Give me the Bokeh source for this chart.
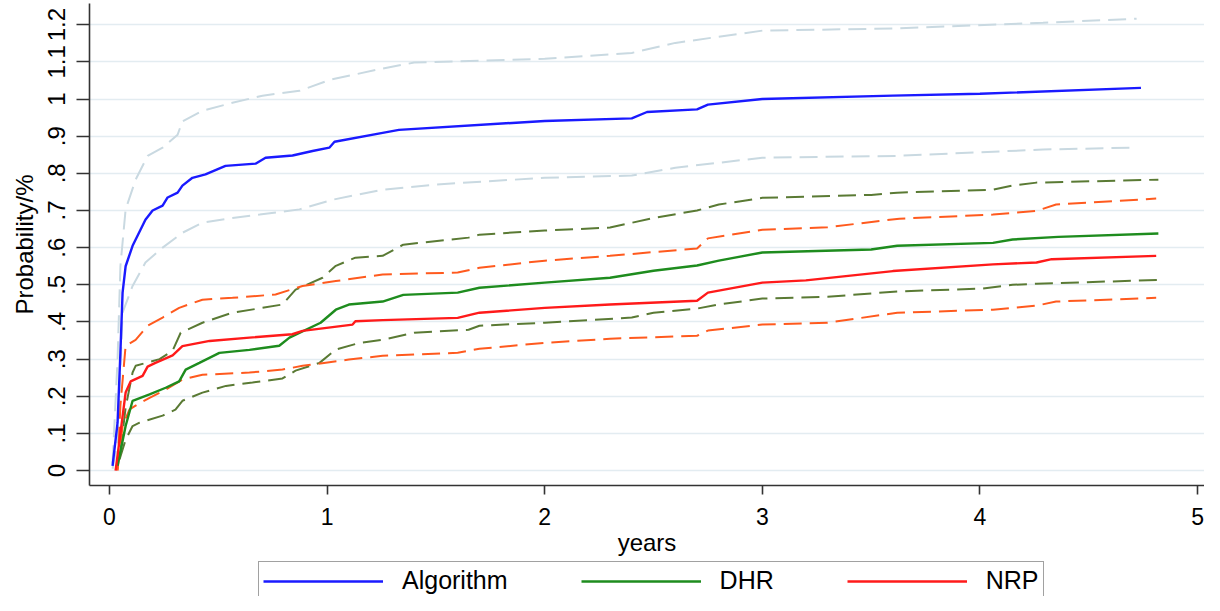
from bokeh.plotting import figure
from bokeh.models import FixedTicker, Legend, LegendItem, Range1d
from bokeh.layouts import column
from bokeh.embed import file_html
from bokeh.resources import INLINE

# ---------------- data ----------------
alg_t = [0.014, 0.037, 0.05, 0.06, 0.074, 0.106, 0.165, 0.198, 0.244, 0.267, 0.313, 0.335, 0.381, 0.441,
         0.533, 0.671, 0.717, 0.841, 0.933, 1.01, 1.034, 1.255, 1.33, 2.0, 2.4, 2.47, 2.7, 2.75, 3.0, 3.6, 4.0, 4.74]
alg = [0.013, 0.129, 0.317, 0.479, 0.55, 0.605, 0.675, 0.70, 0.713, 0.735, 0.748, 0.767, 0.788, 0.797,
       0.82, 0.826, 0.842, 0.848, 0.86, 0.869, 0.885, 0.909, 0.917, 0.941, 0.948, 0.965, 0.972, 0.985, 1.0, 1.009, 1.014, 1.03]

alg_hi_t = [0.014, 0.037, 0.05, 0.074, 0.12, 0.175, 0.244, 0.313, 0.335, 0.427, 0.565, 0.703, 0.873, 1.016,
            1.255, 1.4, 2.0, 2.4, 2.6, 3.0, 3.62, 4.29, 4.72]
alg_hi = [0.02, 0.3, 0.55, 0.703, 0.783, 0.847, 0.869, 0.904, 0.94, 0.968, 0.99, 1.009, 1.022, 1.052,
          1.082, 1.098, 1.108, 1.124, 1.151, 1.184, 1.19, 1.205, 1.216]

alg_lo_t = [0.014, 0.037, 0.06, 0.106, 0.165, 0.244, 0.335, 0.427, 0.565, 0.69, 0.873, 1.025, 1.255, 1.5,
            2.0, 2.4, 2.6, 3.0, 3.62, 4.29, 4.69]
alg_lo = [0.005, 0.08, 0.425, 0.497, 0.56, 0.6, 0.64, 0.667, 0.68, 0.689, 0.703, 0.729, 0.756, 0.77,
          0.788, 0.794, 0.815, 0.842, 0.847, 0.864, 0.869]

dhr_t = [0.037, 0.074, 0.106, 0.184, 0.258, 0.32, 0.35, 0.413, 0.505, 0.643, 0.78, 0.827, 0.97, 1.04, 1.10,
         1.255, 1.35, 1.6, 1.7, 2.0, 2.3, 2.5, 2.7, 2.8, 3.0, 3.5, 3.62, 4.06, 4.15, 4.36, 4.82]
dhr = [0.013, 0.12, 0.188, 0.205, 0.223, 0.24, 0.272, 0.29, 0.317, 0.325, 0.336, 0.358, 0.398, 0.433, 0.447,
       0.455, 0.473, 0.479, 0.492, 0.506, 0.519, 0.538, 0.552, 0.565, 0.587, 0.595, 0.605, 0.613, 0.622, 0.629, 0.638]

dhr_hi_t = [0.05, 0.074, 0.106, 0.12, 0.23, 0.29, 0.327, 0.427, 0.565, 0.703, 0.795, 0.855, 0.979, 1.04, 1.13,
            1.255, 1.35, 1.65, 1.7, 2.0, 2.3, 2.5, 2.7, 2.8, 3.0, 3.5, 3.62, 4.06, 4.15, 4.26, 4.82]
dhr_hi = [0.05, 0.17, 0.264, 0.282, 0.3, 0.323, 0.371, 0.398, 0.425, 0.438, 0.447, 0.487, 0.519, 0.551, 0.573,
          0.578, 0.608, 0.627, 0.635, 0.646, 0.654, 0.68, 0.70, 0.716, 0.734, 0.742, 0.748, 0.756, 0.767, 0.775, 0.783]

dhr_lo_t = [0.046, 0.074, 0.106, 0.138, 0.244, 0.303, 0.335, 0.427, 0.535, 0.657, 0.795, 0.855, 0.965, 1.04,
            1.15, 1.255, 1.4, 1.65, 1.7, 2.0, 2.4, 2.5, 2.7, 2.8, 3.0, 3.3, 3.62, 4.01, 4.15, 4.26, 4.82]
dhr_lo = [0.03, 0.083, 0.12, 0.129, 0.148, 0.164, 0.188, 0.21, 0.228, 0.237, 0.248, 0.269, 0.29, 0.326,
          0.344, 0.352, 0.371, 0.379, 0.39, 0.398, 0.412, 0.425, 0.436, 0.447, 0.463, 0.468, 0.482, 0.49, 0.50, 0.503, 0.513]

nrp_t = [0.028, 0.05, 0.074, 0.097, 0.152, 0.175, 0.211, 0.29, 0.335, 0.46, 0.643, 0.84, 0.887, 1.117, 1.13,
         1.255, 1.6, 1.7, 2.0, 2.3, 2.7, 2.75, 3.0, 3.2, 3.6, 4.06, 4.26, 4.33, 4.81]
nrp = [0.0, 0.1, 0.21, 0.24, 0.255, 0.28, 0.29, 0.31, 0.335, 0.349, 0.358, 0.367, 0.376, 0.393, 0.402,
       0.405, 0.411, 0.425, 0.438, 0.447, 0.457, 0.479, 0.506, 0.512, 0.537, 0.555, 0.56, 0.569, 0.578]

nrp_hi_t = [0.037, 0.05, 0.074, 0.12, 0.175, 0.244, 0.32, 0.427, 0.565, 0.763, 0.887, 1.04, 1.255, 1.6, 1.7,
            2.0, 2.3, 2.7, 2.75, 3.0, 3.3, 3.63, 4.06, 4.26, 4.35, 4.81]
nrp_hi = [0.0, 0.175, 0.336, 0.352, 0.39, 0.412, 0.438, 0.46, 0.465, 0.474, 0.497, 0.51, 0.528, 0.533, 0.546,
          0.565, 0.578, 0.598, 0.625, 0.648, 0.655, 0.678, 0.689, 0.699, 0.716, 0.732]

nrp_lo_t = [0.037, 0.06, 0.092, 0.12, 0.184, 0.258, 0.335, 0.427, 0.643, 0.795, 0.887, 1.10, 1.255, 1.6, 1.7,
            2.0, 2.3, 2.7, 2.75, 3.0, 3.3, 3.62, 4.06, 4.26, 4.35, 4.81]
nrp_lo = [0.003, 0.12, 0.165, 0.175, 0.196, 0.218, 0.245, 0.258, 0.264, 0.272, 0.282, 0.299, 0.309, 0.317, 0.328,
          0.344, 0.355, 0.363, 0.377, 0.393, 0.398, 0.425, 0.433, 0.444, 0.455, 0.465]

y_ticks = [0, 0.1, 0.2, 0.3, 0.4, 0.5, 0.6, 0.7, 0.8, 0.9, 1.0, 1.1, 1.2]
y_tick_labels = ["0", ".1", ".2", ".3", ".4", ".5", ".6", ".7", ".8", ".9", "1", "1.1", "1.2"]
x_ticks = [0, 1, 2, 3, 4, 5]

series_names = ["Algorithm", "DHR", "NRP"]
series_colors = ["#1a1aff", "#1e8c1e", "#ff1a1a"]

# ---------------- main figure ----------------
FONT = "Liberation Sans"
p = figure(frame_width=1115, frame_height=482, output_backend="svg", toolbar_location=None,
           x_range=Range1d(-0.092, 5.032), y_range=Range1d(-0.040, 1.257),
           min_border_left=89, min_border_right=0, min_border_top=3, min_border_bottom=72)
p.outline_line_color = None
p.background_fill_color = "white"
p.border_fill_color = "white"

p.xgrid.grid_line_color = None
p.ygrid.grid_line_color = "#e3ecf1"
p.ygrid.grid_line_width = 1.5
p.ygrid.ticker = FixedTicker(ticks=y_ticks)

p.yaxis.ticker = FixedTicker(ticks=y_ticks)
p.yaxis.major_label_overrides = {t: l for t, l in zip(y_ticks, y_tick_labels)}
p.yaxis.major_label_orientation = "vertical"
p.xaxis.ticker = FixedTicker(ticks=x_ticks)
for ax in (p.xaxis, p.yaxis):
    ax.axis_line_color = "#333333"
    ax.axis_line_width = 1.6
    ax.major_tick_line_color = "#333333"
    ax.major_tick_line_width = 1.6
    ax.major_tick_in = 0
    ax.minor_tick_line_color = None
    ax.major_label_text_font = FONT
    ax.major_label_text_color = "black"
    ax.axis_label_text_font = FONT
    ax.axis_label_text_font_style = "normal"
    ax.axis_label_text_color = "black"
p.yaxis.major_tick_out = 13
p.xaxis.major_tick_out = 9
p.yaxis.major_label_text_font_size = "24px"
p.xaxis.major_label_text_font_size = "23px"
p.yaxis.major_label_standoff = 11
p.xaxis.major_label_standoff = 13
p.yaxis.axis_label = "Probability/%"
p.xaxis.axis_label = "years"
p.yaxis.axis_label_text_font_size = "24px"
p.xaxis.axis_label_text_font_size = "24px"
p.yaxis.axis_label_standoff = 8
p.xaxis.axis_label_standoff = 1

DASH = "18 8"
p.line(alg_hi_t, alg_hi, line_color="#c9d9e1", line_width=2, line_dash=DASH)
p.line(alg_lo_t, alg_lo, line_color="#c9d9e1", line_width=2, line_dash=DASH)
p.line(dhr_hi_t, dhr_hi, line_color="#5a7a34", line_width=2, line_dash=DASH)
p.line(dhr_lo_t, dhr_lo, line_color="#5a7a34", line_width=2, line_dash=DASH)
p.line(nrp_hi_t, nrp_hi, line_color="#ff5a1e", line_width=2, line_dash=DASH)
p.line(nrp_lo_t, nrp_lo, line_color="#ff5a1e", line_width=2, line_dash=DASH)

p.line(alg_t, alg, line_color=series_colors[0], line_width=2.4)
p.line(dhr_t, dhr, line_color=series_colors[1], line_width=2.4)
p.line(nrp_t, nrp, line_color=series_colors[2], line_width=2.4)

# ---------------- legend strip (key only; proxy lines lie outside its range) ----------------
lg = figure(frame_width=1204, frame_height=38, output_backend="svg", toolbar_location=None,
            x_range=Range1d(0, 1), y_range=Range1d(0, 1),
            x_axis_location=None, y_axis_location=None,
            min_border_left=0, min_border_right=0, min_border_top=0, min_border_bottom=0)
lg.outline_line_color = None
lg.xgrid.visible = False
lg.ygrid.visible = False
items = []
for name, col in zip(series_names, series_colors):
    r = lg.line([5, 6], [5, 5], line_color=col, line_width=2.4)
    items.append(LegendItem(label=name, renderers=[r]))
legend = Legend(items=items, orientation="horizontal", location=(258, -4),
                glyph_width=120, glyph_height=20, label_standoff=19, spacing=73,
                padding=4, margin=0,
                label_text_font=FONT, label_text_font_size="25px", label_text_color="black",
                border_line_color="#444444", border_line_width=1.5,
                background_fill_color="white", background_fill_alpha=1.0)
lg.add_layout(legend, "center")

layout = column(p, lg, spacing=0)
open("out.html", "w").write(file_html(layout, INLINE))
